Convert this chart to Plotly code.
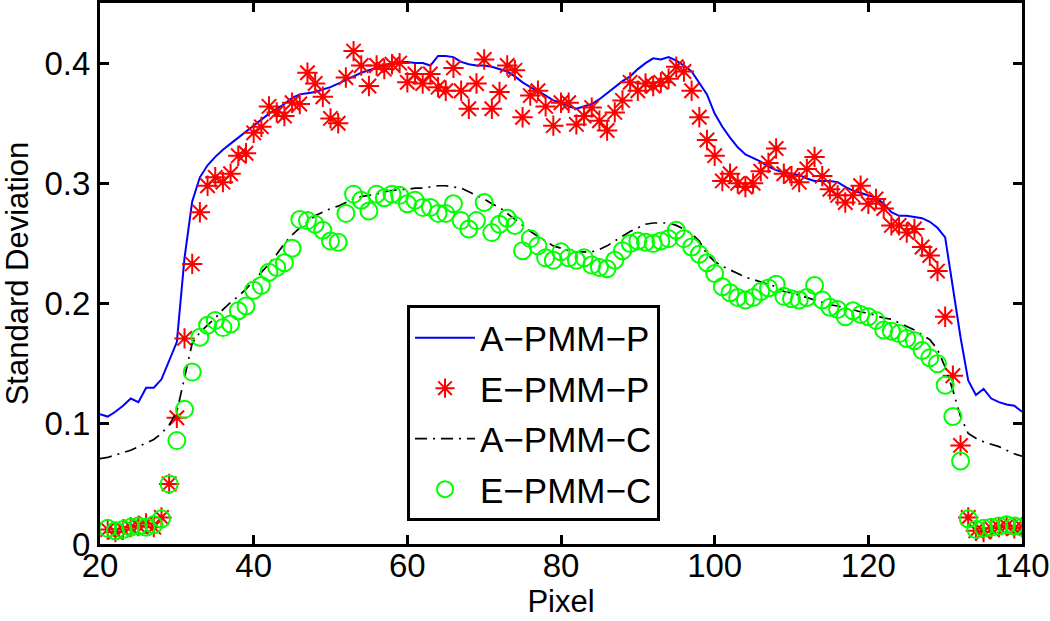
import plotly.graph_objects as go

# ---------------- data ----------------
x_line = list(range(20, 141))
x_pts = list(range(21, 141))

a_pmm_p = [0.108, 0.106, 0.110, 0.115, 0.121, 0.118, 0.130, 0.130, 0.137, 0.152,
           0.168, 0.238, 0.285, 0.305, 0.315, 0.322, 0.328, 0.333, 0.338, 0.343,
           0.348, 0.353, 0.358, 0.362, 0.366, 0.371, 0.374, 0.375, 0.376, 0.378,
           0.380, 0.383, 0.386, 0.389, 0.392, 0.394, 0.396, 0.398, 0.400, 0.401,
           0.401, 0.400, 0.400, 0.398, 0.406, 0.406, 0.405, 0.401, 0.399, 0.398,
           0.398, 0.397, 0.395, 0.393, 0.389, 0.384, 0.380, 0.377, 0.373, 0.369,
           0.367, 0.364, 0.362, 0.364, 0.366, 0.370, 0.375, 0.380, 0.385, 0.389,
           0.395, 0.400, 0.404, 0.403, 0.405, 0.402, 0.398, 0.393, 0.383, 0.374,
           0.358, 0.347, 0.338, 0.330, 0.324, 0.321, 0.318, 0.314, 0.311, 0.309,
           0.308, 0.307, 0.304, 0.302, 0.302, 0.302, 0.301, 0.297, 0.294, 0.292,
           0.290, 0.288, 0.283, 0.276, 0.273, 0.273, 0.272, 0.271, 0.268, 0.263,
           0.255, 0.212, 0.172, 0.136, 0.124, 0.129, 0.121, 0.118, 0.116, 0.115,
           0.110]

a_pmm_c = [0.071, 0.072, 0.074, 0.076, 0.078, 0.081, 0.084, 0.087, 0.092, 0.099,
           0.110, 0.140, 0.167, 0.176, 0.182, 0.188, 0.195, 0.201, 0.206, 0.212,
           0.219, 0.226, 0.233, 0.241, 0.250, 0.257, 0.263, 0.268, 0.273, 0.276,
           0.279, 0.281, 0.284, 0.287, 0.289, 0.290, 0.291, 0.293, 0.294, 0.295,
           0.295, 0.296, 0.296, 0.297, 0.298, 0.298, 0.297, 0.296, 0.293, 0.290,
           0.287, 0.283, 0.280, 0.275, 0.270, 0.265, 0.260, 0.256, 0.252, 0.248,
           0.246, 0.244, 0.243, 0.243, 0.243, 0.245, 0.248, 0.252, 0.256, 0.260,
           0.263, 0.266, 0.267, 0.267, 0.267, 0.265, 0.262, 0.258, 0.252, 0.241,
           0.235, 0.231, 0.228, 0.225, 0.222, 0.220, 0.218, 0.216, 0.214, 0.210,
           0.209, 0.207, 0.205, 0.203, 0.201, 0.199, 0.198, 0.196, 0.195, 0.193,
           0.192, 0.190, 0.188, 0.187, 0.184, 0.181, 0.178, 0.174, 0.170, 0.162,
           0.147, 0.128, 0.106, 0.092, 0.088, 0.085, 0.083, 0.081, 0.078, 0.075,
           0.073]

e_pmm_p = [0.012, 0.010, 0.012, 0.014, 0.015, 0.017, 0.014, 0.022, 0.050, 0.105,
           0.171, 0.233, 0.276, 0.298, 0.305, 0.301, 0.308, 0.323, 0.325, 0.342,
           0.347, 0.364, 0.359, 0.356, 0.367, 0.366, 0.392, 0.383, 0.372, 0.354,
           0.350, 0.388, 0.410, 0.398, 0.381, 0.398, 0.395, 0.399, 0.400, 0.384,
           0.391, 0.383, 0.391, 0.380, 0.377, 0.396, 0.377, 0.362, 0.383, 0.403,
           0.362, 0.376, 0.398, 0.394, 0.355, 0.373, 0.377, 0.364, 0.348, 0.367,
           0.367, 0.349, 0.356, 0.363, 0.352, 0.344, 0.359, 0.369, 0.384, 0.377,
           0.383, 0.381, 0.384, 0.387, 0.397, 0.393, 0.377, 0.355, 0.336, 0.323,
           0.302, 0.308, 0.300, 0.297, 0.300, 0.310, 0.317, 0.329, 0.308, 0.306,
           0.301, 0.312, 0.322, 0.306, 0.295, 0.290, 0.284, 0.290, 0.298, 0.283,
           0.287, 0.279, 0.265, 0.265, 0.259, 0.262, 0.247, 0.240, 0.227, 0.189,
           0.140, 0.082, 0.022, 0.011, 0.010, 0.013, 0.014, 0.015, 0.013, 0.014]

e_pmm_c = [0.013, 0.011, 0.012, 0.014, 0.015, 0.014, 0.016, 0.021, 0.050, 0.086,
           0.112, 0.143, 0.172, 0.182, 0.186, 0.180, 0.183, 0.194, 0.198, 0.211,
           0.215, 0.226, 0.230, 0.234, 0.246, 0.270, 0.269, 0.266, 0.261, 0.252,
           0.251, 0.275, 0.291, 0.286, 0.277, 0.291, 0.288, 0.291, 0.290, 0.283,
           0.286, 0.280, 0.280, 0.275, 0.275, 0.283, 0.269, 0.262, 0.269, 0.284,
           0.259, 0.266, 0.271, 0.265, 0.244, 0.254, 0.248, 0.238, 0.236, 0.243,
           0.238, 0.236, 0.238, 0.232, 0.230, 0.229, 0.236, 0.244, 0.250, 0.252,
           0.251, 0.250, 0.252, 0.254, 0.261, 0.254, 0.247, 0.241, 0.234, 0.225,
           0.214, 0.209, 0.205, 0.203, 0.205, 0.210, 0.213, 0.216, 0.206, 0.204,
           0.203, 0.205, 0.215, 0.203, 0.197, 0.195, 0.189, 0.194, 0.191, 0.189,
           0.186, 0.178, 0.177, 0.175, 0.171, 0.169, 0.161, 0.155, 0.150, 0.132,
           0.106, 0.069, 0.021, 0.012, 0.013, 0.014, 0.015, 0.016, 0.015, 0.014]

x_ticks = [20, 40, 60, 80, 100, 120, 140]
y_ticks = [0, 0.1, 0.2, 0.3, 0.4]
names = ["A\u2212PMM\u2212P", "E\u2212PMM\u2212P", "A\u2212PMM\u2212C", "E\u2212PMM\u2212C"]

FONT = "Liberation Sans, Arial, Helvetica, sans-serif"

fig = go.Figure()
fig.add_trace(go.Scatter(x=x_line, y=a_pmm_p, mode="lines", name=names[0],
                         legendgroup="g1",
                         line=dict(color="#0000FF", width=2)))
fig.add_trace(go.Scatter(x=x_pts, y=e_pmm_p, mode="markers", name=names[1],
                         legendgroup="g2",
                         marker=dict(symbol="asterisk-open", size=17,
                                     color="#FF0000",
                                     line=dict(color="#FF0000", width=2))))
fig.add_trace(go.Scatter(x=x_line, y=a_pmm_c, mode="lines", name=names[2],
                         legendgroup="g3",
                         line=dict(color="#000000", width=1.7,
                                   dash="12px,6px,2px,6px")))
fig.add_trace(go.Scatter(x=x_pts, y=e_pmm_c, mode="markers", name=names[3],
                         legendgroup="g4",
                         marker=dict(symbol="circle-open", size=17,
                                     color="#00FF00",
                                     line=dict(color="#00FF00", width=2))))

axis_common = dict(showline=True, linecolor="black", linewidth=3,
                   mirror="ticks", ticks="inside", ticklen=9, tickwidth=2.5,
                   tickcolor="black", showgrid=False, zeroline=False,
                   automargin=False,
                   tickfont=dict(family=FONT, size=33, color="black"))

fig.update_layout(
    width=1050, height=621,
    margin=dict(l=100, r=28, t=3, b=77, autoexpand=False),
    paper_bgcolor="white", plot_bgcolor="white",
    font=dict(family=FONT, color="black"),
    xaxis=dict(range=[20, 140], tickvals=x_ticks, ticklabelstandoff=-10,
               title=dict(text="Pixel", font=dict(family=FONT, size=31),
                          standoff=1),
               **axis_common),
    yaxis=dict(range=[0, 0.45], tickvals=y_ticks,
               title=dict(text="Standard Deviation",
                          font=dict(family=FONT, size=31), standoff=15),
               **axis_common),
    legend=dict(x=0.333, y=0.441, xanchor="left", yanchor="top",
                bgcolor="white", bordercolor="black", borderwidth=3,
                font=dict(family=FONT, size=35, color="black"),
                traceorder="grouped", tracegroupgap=2,
                itemwidth=60, itemsizing="trace"),
    showlegend=True,
)

fig.write_html(
    "out.html",
    config={"displayModeBar": False},
    post_script="document.body.style.margin='0';document.body.style.padding='0';"
                "document.body.style.overflow='hidden';",
)
